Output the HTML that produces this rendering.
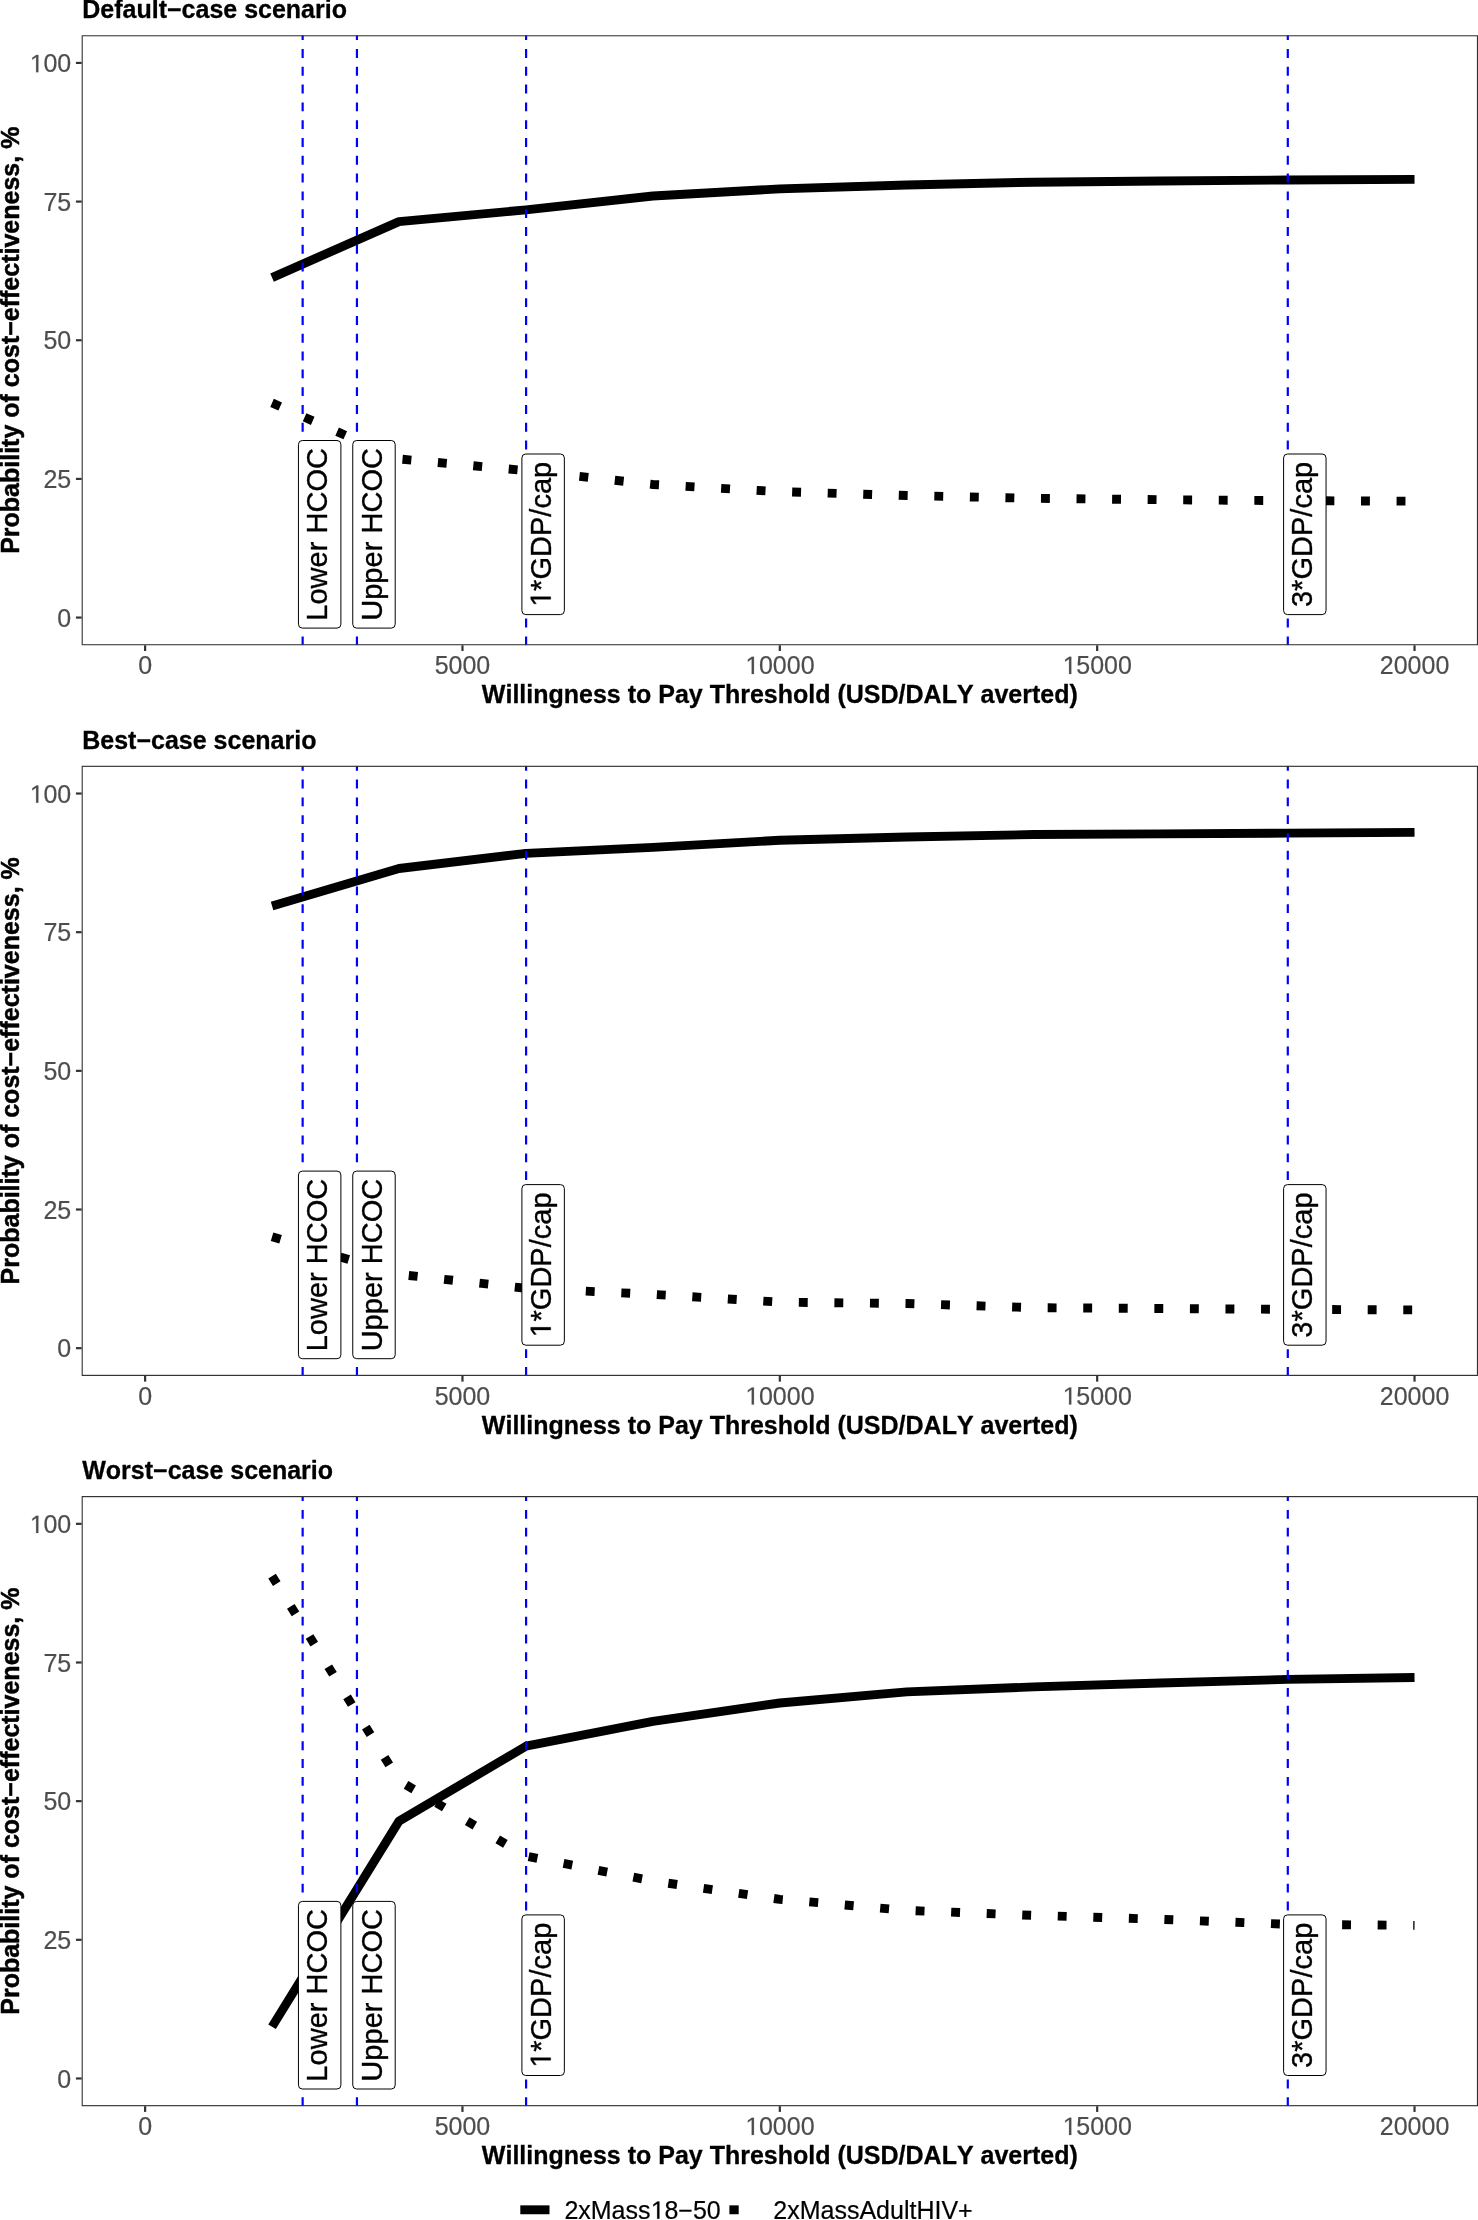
<!DOCTYPE html>
<html><head><meta charset="utf-8"><title>Cost-effectiveness acceptability curves</title>
<style>html,body{margin:0;padding:0;background:#fff;}body{width:1478px;height:2220px;overflow:hidden;}svg{display:block;}
text{font-family:"Liberation Sans",sans-serif;font-kerning:none;}
.ax{font-size:25px;fill:#4d4d4d;stroke:#4d4d4d;stroke-width:0.2px;}.bt{font-size:25.0px;font-weight:bold;fill:#000;stroke:#000;stroke-width:0.3px;stroke-linejoin:round;}.rt{stroke-width:0.5px;}.lg{font-size:25px;fill:#000;stroke:#000;stroke-width:0.2px;}.lb{font-size:29.05px;fill:#000;stroke:#000;stroke-width:0.35px;stroke-linejoin:round;}
</style></head><body>
<svg style="will-change:transform" width="1478" height="2220" viewBox="0 0 1478 2220">
<rect x="0" y="0" width="1478" height="2220" fill="#ffffff"/>
<defs>
<clipPath id="cp0"><rect x="81.65" y="35.20" width="1396.35" height="610.10"/></clipPath>
<clipPath id="cp1"><rect x="81.65" y="765.80" width="1396.35" height="610.10"/></clipPath>
<clipPath id="cp2"><rect x="81.65" y="1496.10" width="1396.35" height="610.10"/></clipPath>
</defs>
<g>
<text class="bt" style="font-size:25px" x="82.25" y="17.90">Default−case scenario</text>
<g clip-path="url(#cp0)">
<polyline points="272.06,277.58 399.00,221.56 525.94,209.91 652.88,196.04 779.82,188.83 906.77,184.95 1033.71,182.18 1160.65,181.07 1287.59,179.96 1414.53,179.41" fill="none" stroke="#000" stroke-width="8.90" stroke-linejoin="round" stroke-linecap="butt"/>
<polyline points="272.06,402.92 399.00,458.94 525.94,470.59 652.88,484.46 779.82,491.67 906.77,495.55 1033.71,498.32 1160.65,499.71 1287.59,500.65 1414.53,501.21" fill="none" stroke="#000" stroke-width="8.90" stroke-linejoin="round" stroke-linecap="butt" stroke-dasharray="8.89 26.67"/>
<line x1="302.65" y1="645.30" x2="302.65" y2="35.20" stroke="#0000ff" stroke-width="2.2" stroke-dasharray="8.9 8.9"/>
<line x1="356.95" y1="645.30" x2="356.95" y2="35.20" stroke="#0000ff" stroke-width="2.2" stroke-dasharray="8.9 8.9"/>
<line x1="526.10" y1="645.30" x2="526.10" y2="35.20" stroke="#0000ff" stroke-width="2.2" stroke-dasharray="8.9 8.9"/>
<line x1="1287.80" y1="645.30" x2="1287.80" y2="35.20" stroke="#0000ff" stroke-width="2.2" stroke-dasharray="8.9 8.9"/>
<rect x="298.45" y="440.50" width="42.45" height="187.60" rx="3.9" ry="3.9" fill="#fff" stroke="#000" stroke-width="1"/>
<text class="lb" text-anchor="middle" transform="translate(327.25,534.40) rotate(-90)">Lower HCOC</text>
<rect x="352.75" y="440.50" width="42.45" height="187.60" rx="3.9" ry="3.9" fill="#fff" stroke="#000" stroke-width="1"/>
<text class="lb" text-anchor="middle" transform="translate(381.55,534.40) rotate(-90)">Upper HCOC</text>
<rect x="521.90" y="454.00" width="42.45" height="160.60" rx="3.9" ry="3.9" fill="#fff" stroke="#000" stroke-width="1"/>
<g transform="translate(550.70,534.40) rotate(-90)"><path class="lb" d="M-64.93,0.00 L-64.93,-17.55 L-69.44,-14.33 L-69.44,-16.74 L-64.72,-19.99 L-62.36,-19.99 L-62.36,0.00Z"/><text class="lb" x="-56.50" y="0">*GDP/cap</text></g>
<rect x="1283.60" y="454.00" width="42.45" height="160.60" rx="3.9" ry="3.9" fill="#fff" stroke="#000" stroke-width="1"/>
<text class="lb" text-anchor="middle" transform="translate(1312.40,534.40) rotate(-90)">3*GDP/cap</text>
<rect x="81.65" y="35.20" width="1396.35" height="610.10" fill="none" stroke="#333333" stroke-width="2.2"/>
</g>
<line x1="75.92" y1="617.57" x2="81.65" y2="617.57" stroke="#333333" stroke-width="2.2"/>
<text class="ax" x="57.30" y="626.77">0</text>
<line x1="75.92" y1="478.91" x2="81.65" y2="478.91" stroke="#333333" stroke-width="2.2"/>
<text class="ax" x="43.39" y="488.11">25</text>
<line x1="75.92" y1="340.25" x2="81.65" y2="340.25" stroke="#333333" stroke-width="2.2"/>
<text class="ax" x="43.39" y="349.45">50</text>
<line x1="75.92" y1="201.59" x2="81.65" y2="201.59" stroke="#333333" stroke-width="2.2"/>
<text class="ax" x="43.39" y="210.79">75</text>
<line x1="75.92" y1="62.93" x2="81.65" y2="62.93" stroke="#333333" stroke-width="2.2"/>
<path class="ax" d="M36.14,72.13 L36.14,57.03 L32.26,59.80 L32.26,57.73 L36.32,54.93 L38.35,54.93 L38.35,72.13Z"/><text class="ax" x="43.39" y="72.13">00</text>
<line x1="145.12" y1="645.30" x2="145.12" y2="651.03" stroke="#333333" stroke-width="2.2"/>
<text class="ax" x="138.17" y="674.00">0</text>
<line x1="462.47" y1="645.30" x2="462.47" y2="651.03" stroke="#333333" stroke-width="2.2"/>
<text class="ax" x="434.67" y="674.00">5000</text>
<line x1="779.82" y1="645.30" x2="779.82" y2="651.03" stroke="#333333" stroke-width="2.2"/>
<path class="ax" d="M751.72,674.00 L751.72,658.90 L747.84,661.67 L747.84,659.60 L751.90,656.80 L753.93,656.80 L753.93,674.00Z"/><text class="ax" x="758.97" y="674.00">0000</text>
<line x1="1097.18" y1="645.30" x2="1097.18" y2="651.03" stroke="#333333" stroke-width="2.2"/>
<path class="ax" d="M1069.07,674.00 L1069.07,658.90 L1065.19,661.67 L1065.19,659.60 L1069.25,656.80 L1071.28,656.80 L1071.28,674.00Z"/><text class="ax" x="1076.32" y="674.00">5000</text>
<line x1="1414.53" y1="645.30" x2="1414.53" y2="651.03" stroke="#333333" stroke-width="2.2"/>
<text class="ax" x="1379.77" y="674.00">20000</text>
<text class="bt" text-anchor="middle" x="779.83" y="703.10">Willingness to Pay Threshold (USD/DALY averted)</text>
<text class="bt rt" text-anchor="middle" transform="translate(18.60,340.25) rotate(-90)">Probability of cost−effectiveness, %</text>
</g>
<g>
<text class="bt" style="font-size:25px" x="82.25" y="748.55">Best−case scenario</text>
<g clip-path="url(#cp1)">
<polyline points="272.06,905.90 399.00,868.52 525.94,853.43 652.88,847.33 779.82,840.29 906.77,836.96 1033.71,834.57 1160.65,833.91 1287.59,833.08 1414.53,832.36" fill="none" stroke="#000" stroke-width="8.90" stroke-linejoin="round" stroke-linecap="butt"/>
<polyline points="272.06,1236.69 399.00,1274.40 525.94,1288.27 652.88,1294.37 779.82,1302.13 906.77,1303.52 1033.71,1307.68 1160.65,1308.51 1287.59,1309.34 1414.53,1309.90" fill="none" stroke="#000" stroke-width="8.90" stroke-linejoin="round" stroke-linecap="butt" stroke-dasharray="8.89 26.67"/>
<line x1="302.65" y1="1375.90" x2="302.65" y2="765.80" stroke="#0000ff" stroke-width="2.2" stroke-dasharray="8.9 8.9"/>
<line x1="356.95" y1="1375.90" x2="356.95" y2="765.80" stroke="#0000ff" stroke-width="2.2" stroke-dasharray="8.9 8.9"/>
<line x1="526.10" y1="1375.90" x2="526.10" y2="765.80" stroke="#0000ff" stroke-width="2.2" stroke-dasharray="8.9 8.9"/>
<line x1="1287.80" y1="1375.90" x2="1287.80" y2="765.80" stroke="#0000ff" stroke-width="2.2" stroke-dasharray="8.9 8.9"/>
<rect x="298.45" y="1171.10" width="42.45" height="187.60" rx="3.9" ry="3.9" fill="#fff" stroke="#000" stroke-width="1"/>
<text class="lb" text-anchor="middle" transform="translate(327.25,1265.00) rotate(-90)">Lower HCOC</text>
<rect x="352.75" y="1171.10" width="42.45" height="187.60" rx="3.9" ry="3.9" fill="#fff" stroke="#000" stroke-width="1"/>
<text class="lb" text-anchor="middle" transform="translate(381.55,1265.00) rotate(-90)">Upper HCOC</text>
<rect x="521.90" y="1184.60" width="42.45" height="160.60" rx="3.9" ry="3.9" fill="#fff" stroke="#000" stroke-width="1"/>
<g transform="translate(550.70,1265.00) rotate(-90)"><path class="lb" d="M-64.93,0.00 L-64.93,-17.55 L-69.44,-14.33 L-69.44,-16.74 L-64.72,-19.99 L-62.36,-19.99 L-62.36,0.00Z"/><text class="lb" x="-56.50" y="0">*GDP/cap</text></g>
<rect x="1283.60" y="1184.60" width="42.45" height="160.60" rx="3.9" ry="3.9" fill="#fff" stroke="#000" stroke-width="1"/>
<text class="lb" text-anchor="middle" transform="translate(1312.40,1265.00) rotate(-90)">3*GDP/cap</text>
<rect x="81.65" y="765.80" width="1396.35" height="610.10" fill="none" stroke="#333333" stroke-width="2.2"/>
</g>
<line x1="75.92" y1="1348.17" x2="81.65" y2="1348.17" stroke="#333333" stroke-width="2.2"/>
<text class="ax" x="57.30" y="1357.37">0</text>
<line x1="75.92" y1="1209.51" x2="81.65" y2="1209.51" stroke="#333333" stroke-width="2.2"/>
<text class="ax" x="43.39" y="1218.71">25</text>
<line x1="75.92" y1="1070.85" x2="81.65" y2="1070.85" stroke="#333333" stroke-width="2.2"/>
<text class="ax" x="43.39" y="1080.05">50</text>
<line x1="75.92" y1="932.19" x2="81.65" y2="932.19" stroke="#333333" stroke-width="2.2"/>
<text class="ax" x="43.39" y="941.39">75</text>
<line x1="75.92" y1="793.53" x2="81.65" y2="793.53" stroke="#333333" stroke-width="2.2"/>
<path class="ax" d="M36.14,802.73 L36.14,787.63 L32.26,790.40 L32.26,788.33 L36.32,785.53 L38.35,785.53 L38.35,802.73Z"/><text class="ax" x="43.39" y="802.73">00</text>
<line x1="145.12" y1="1375.90" x2="145.12" y2="1381.63" stroke="#333333" stroke-width="2.2"/>
<text class="ax" x="138.17" y="1404.60">0</text>
<line x1="462.47" y1="1375.90" x2="462.47" y2="1381.63" stroke="#333333" stroke-width="2.2"/>
<text class="ax" x="434.67" y="1404.60">5000</text>
<line x1="779.82" y1="1375.90" x2="779.82" y2="1381.63" stroke="#333333" stroke-width="2.2"/>
<path class="ax" d="M751.72,1404.60 L751.72,1389.50 L747.84,1392.27 L747.84,1390.20 L751.90,1387.40 L753.93,1387.40 L753.93,1404.60Z"/><text class="ax" x="758.97" y="1404.60">0000</text>
<line x1="1097.18" y1="1375.90" x2="1097.18" y2="1381.63" stroke="#333333" stroke-width="2.2"/>
<path class="ax" d="M1069.07,1404.60 L1069.07,1389.50 L1065.19,1392.27 L1065.19,1390.20 L1069.25,1387.40 L1071.28,1387.40 L1071.28,1404.60Z"/><text class="ax" x="1076.32" y="1404.60">5000</text>
<line x1="1414.53" y1="1375.90" x2="1414.53" y2="1381.63" stroke="#333333" stroke-width="2.2"/>
<text class="ax" x="1379.77" y="1404.60">20000</text>
<text class="bt" text-anchor="middle" x="779.83" y="1433.70">Willingness to Pay Threshold (USD/DALY averted)</text>
<text class="bt rt" text-anchor="middle" transform="translate(18.60,1070.85) rotate(-90)">Probability of cost−effectiveness, %</text>
</g>
<g>
<text class="bt" style="font-size:25px" x="82.25" y="1479.20">Worst−case scenario</text>
<g clip-path="url(#cp2)">
<polyline points="272.06,2026.72 399.00,1821.12 525.94,1746.24 652.88,1721.28 779.82,1702.98 906.77,1691.89 1033.71,1686.89 1160.65,1683.01 1287.59,1679.41 1414.53,1677.47" fill="none" stroke="#000" stroke-width="8.90" stroke-linejoin="round" stroke-linecap="butt"/>
<polyline points="272.06,1576.08 399.00,1780.63 525.94,1856.06 652.88,1881.02 779.82,1899.32 906.77,1910.41 1033.71,1915.41 1160.65,1919.29 1287.59,1924.28 1414.53,1925.39" fill="none" stroke="#000" stroke-width="8.90" stroke-linejoin="round" stroke-linecap="butt" stroke-dasharray="8.89 26.67"/>
<line x1="302.65" y1="2106.20" x2="302.65" y2="1496.10" stroke="#0000ff" stroke-width="2.2" stroke-dasharray="8.9 8.9"/>
<line x1="356.95" y1="2106.20" x2="356.95" y2="1496.10" stroke="#0000ff" stroke-width="2.2" stroke-dasharray="8.9 8.9"/>
<line x1="526.10" y1="2106.20" x2="526.10" y2="1496.10" stroke="#0000ff" stroke-width="2.2" stroke-dasharray="8.9 8.9"/>
<line x1="1287.80" y1="2106.20" x2="1287.80" y2="1496.10" stroke="#0000ff" stroke-width="2.2" stroke-dasharray="8.9 8.9"/>
<rect x="298.45" y="1901.40" width="42.45" height="187.60" rx="3.9" ry="3.9" fill="#fff" stroke="#000" stroke-width="1"/>
<text class="lb" text-anchor="middle" transform="translate(327.25,1995.30) rotate(-90)">Lower HCOC</text>
<rect x="352.75" y="1901.40" width="42.45" height="187.60" rx="3.9" ry="3.9" fill="#fff" stroke="#000" stroke-width="1"/>
<text class="lb" text-anchor="middle" transform="translate(381.55,1995.30) rotate(-90)">Upper HCOC</text>
<rect x="521.90" y="1914.90" width="42.45" height="160.60" rx="3.9" ry="3.9" fill="#fff" stroke="#000" stroke-width="1"/>
<g transform="translate(550.70,1995.30) rotate(-90)"><path class="lb" d="M-64.93,0.00 L-64.93,-17.55 L-69.44,-14.33 L-69.44,-16.74 L-64.72,-19.99 L-62.36,-19.99 L-62.36,0.00Z"/><text class="lb" x="-56.50" y="0">*GDP/cap</text></g>
<rect x="1283.60" y="1914.90" width="42.45" height="160.60" rx="3.9" ry="3.9" fill="#fff" stroke="#000" stroke-width="1"/>
<text class="lb" text-anchor="middle" transform="translate(1312.40,1995.30) rotate(-90)">3*GDP/cap</text>
<rect x="81.65" y="1496.10" width="1396.35" height="610.10" fill="none" stroke="#333333" stroke-width="2.2"/>
</g>
<line x1="75.92" y1="2078.47" x2="81.65" y2="2078.47" stroke="#333333" stroke-width="2.2"/>
<text class="ax" x="57.30" y="2087.67">0</text>
<line x1="75.92" y1="1939.81" x2="81.65" y2="1939.81" stroke="#333333" stroke-width="2.2"/>
<text class="ax" x="43.39" y="1949.01">25</text>
<line x1="75.92" y1="1801.15" x2="81.65" y2="1801.15" stroke="#333333" stroke-width="2.2"/>
<text class="ax" x="43.39" y="1810.35">50</text>
<line x1="75.92" y1="1662.49" x2="81.65" y2="1662.49" stroke="#333333" stroke-width="2.2"/>
<text class="ax" x="43.39" y="1671.69">75</text>
<line x1="75.92" y1="1523.83" x2="81.65" y2="1523.83" stroke="#333333" stroke-width="2.2"/>
<path class="ax" d="M36.14,1533.03 L36.14,1517.93 L32.26,1520.70 L32.26,1518.63 L36.32,1515.83 L38.35,1515.83 L38.35,1533.03Z"/><text class="ax" x="43.39" y="1533.03">00</text>
<line x1="145.12" y1="2106.20" x2="145.12" y2="2111.93" stroke="#333333" stroke-width="2.2"/>
<text class="ax" x="138.17" y="2134.90">0</text>
<line x1="462.47" y1="2106.20" x2="462.47" y2="2111.93" stroke="#333333" stroke-width="2.2"/>
<text class="ax" x="434.67" y="2134.90">5000</text>
<line x1="779.82" y1="2106.20" x2="779.82" y2="2111.93" stroke="#333333" stroke-width="2.2"/>
<path class="ax" d="M751.72,2134.90 L751.72,2119.80 L747.84,2122.57 L747.84,2120.50 L751.90,2117.70 L753.93,2117.70 L753.93,2134.90Z"/><text class="ax" x="758.97" y="2134.90">0000</text>
<line x1="1097.18" y1="2106.20" x2="1097.18" y2="2111.93" stroke="#333333" stroke-width="2.2"/>
<path class="ax" d="M1069.07,2134.90 L1069.07,2119.80 L1065.19,2122.57 L1065.19,2120.50 L1069.25,2117.70 L1071.28,2117.70 L1071.28,2134.90Z"/><text class="ax" x="1076.32" y="2134.90">5000</text>
<line x1="1414.53" y1="2106.20" x2="1414.53" y2="2111.93" stroke="#333333" stroke-width="2.2"/>
<text class="ax" x="1379.77" y="2134.90">20000</text>
<text class="bt" text-anchor="middle" x="779.83" y="2164.00">Willingness to Pay Threshold (USD/DALY averted)</text>
<text class="bt rt" text-anchor="middle" transform="translate(18.60,1801.15) rotate(-90)">Probability of cost−effectiveness, %</text>
</g>
<g>
<line x1="520.3" y1="2209.80" x2="549.5" y2="2209.80" stroke="#000" stroke-width="8.90"/>
<text class="lg" x="564.4" y="2218.8">2xMass</text><path class="lg" d="M657.19,2218.80 L657.19,2203.70 L653.30,2206.47 L653.30,2204.40 L657.37,2201.60 L659.40,2201.60 L659.40,2218.80Z"/><text class="lg" x="664.44" y="2218.8">8−50</text>
<line x1="729.4" y1="2209.80" x2="758.6" y2="2209.80" stroke="#000" stroke-width="8.90" stroke-dasharray="9.30 30.00"/>
<text class="lg" x="773.3" y="2218.8">2xMassAdultHIV+</text>
</g>
</svg></body></html>
